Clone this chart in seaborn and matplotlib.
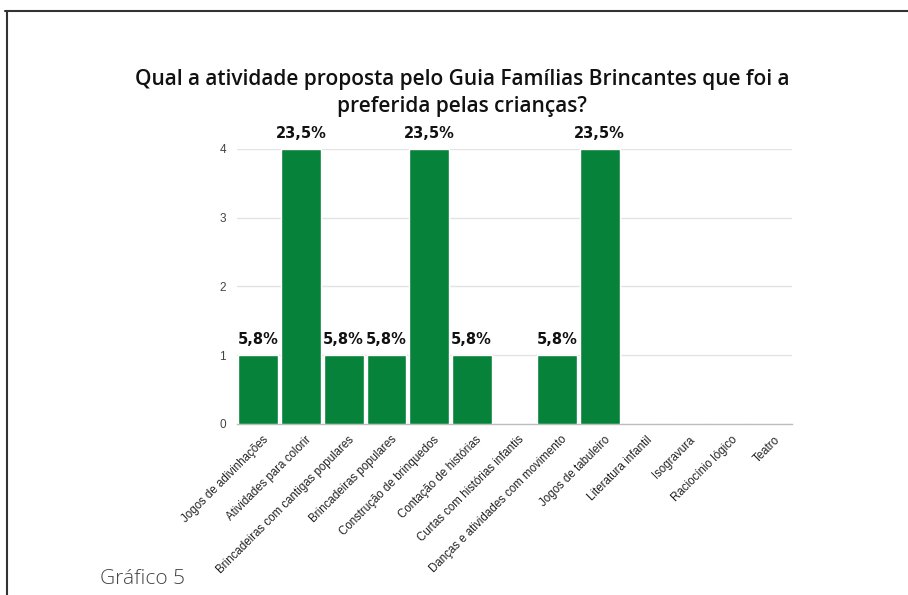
import matplotlib
matplotlib.use("Agg")
import matplotlib.pyplot as plt
import matplotlib.transforms as mtransforms
from matplotlib.lines import Line2D
import seaborn as sns
import pandas as pd

categorias = [
    "Jogos de adivinhações",
    "Atividades para colorir",
    "Brincadeiras com cantigas populares",
    "Brincadeiras populares",
    "Construção de brinquedos",
    "Contação de histórias",
    "Curtas com histórias infantis",
    "Danças e atividades com movimento",
    "Jogos de tabuleiro",
    "Literatura infantil",
    "Isogravura",
    "Raciocínio lógico",
    "Teatro",
]
respostas = [1, 4, 1, 1, 4, 1, 0, 1, 4, 0, 0, 0, 0]
percentuais = ["5,8%", "23,5%", "5,8%", "5,8%", "23,5%", "5,8%", "",
               "5,8%", "23,5%", "", "", "", ""]
y_ticks = [0, 1, 2, 3, 4]

df = pd.DataFrame({"atividade": categorias, "respostas": respostas})

sns.set_theme(style="white")
plt.rcParams["font.family"] = ["Liberation Sans", "DejaVu Sans"]

fig = plt.figure(figsize=(9.08, 5.95), dpi=100)
ax = fig.add_axes([0.261, 0.2874, 0.611, 0.4622])

sns.barplot(data=df, x="atividade", y="respostas", color="#06823a",
            saturation=1, width=0.93, ax=ax, zorder=3)

ax.set_ylim(0, 4)
ax.set_xlim(-0.5, len(categorias) - 0.5)
ax.set_yticks(y_ticks)
ax.set_yticklabels([str(t) for t in y_ticks], fontsize=8.5, color="#444444")
ax.yaxis.grid(True, color="#e3e3e3", linewidth=1, zorder=0)
ax.set_axisbelow(True)
for s in ["top", "right", "left"]:
    ax.spines[s].set_visible(False)
ax.spines["bottom"].set_color("#bdbdbd")
ax.spines["bottom"].set_linewidth(1)
ax.tick_params(axis="both", length=0, pad=8)
ax.set_xlabel("")
ax.set_ylabel("")

ax.set_xticks(range(len(categorias)))
ax.set_xticklabels(categorias, rotation=45, ha="right", rotation_mode="anchor",
                   fontsize=8.3, color="#222222")
ax.tick_params(axis="x", pad=7)
shift = mtransforms.ScaledTranslation(4 / 100, 0, fig.dpi_scale_trans)
for lbl in ax.get_xticklabels():
    lbl.set_transform(lbl.get_transform() + shift)

for i, (v, lab) in enumerate(zip(respostas, percentuais)):
    if lab:
        ax.annotate(lab, (i, v), xytext=(0, 6), textcoords="offset points",
                    ha="center", va="bottom", fontsize=10.5, fontweight="bold",
                    color="#111111", annotation_clip=False,
                    family=["DejaVu Sans"])

fig.text(0.509, 0.844,
         "Qual a atividade proposta pelo Guia Famílias Brincantes que foi a\npreferida pelas crianças?",
         ha="center", va="center", fontsize=15, fontweight="semibold",
         color="#111111", linespacing=1.4, family=["Open Sans", "DejaVu Sans"])

fig.text(0.11, 0.018, "Gráfico 5", ha="left", va="baseline",
         fontsize=15, color="#444444", family=["Open Sans", "DejaVu Sans"],
         fontweight="light")

# frame lines at top and left of the page
fig.add_artist(Line2D([0.005, 1.0], [1 - 10.5 / 595, 1 - 10.5 / 595],
                      transform=fig.transFigure, color="#333333", linewidth=1.5))
fig.add_artist(Line2D([7 / 908, 7 / 908], [1 - 10.5 / 595, 0.0],
                      transform=fig.transFigure, color="#333333", linewidth=1.5))

fig.savefig("out.png", dpi=100, facecolor="white")
